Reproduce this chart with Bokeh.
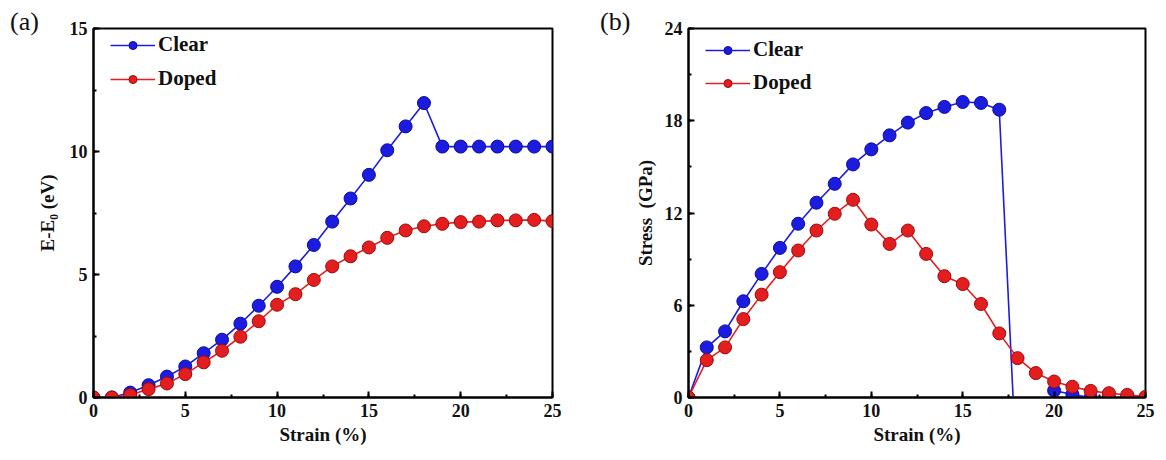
from bokeh.plotting import figure
from bokeh.layouts import row
from bokeh.models import Range1d, Div, SingleIntervalTicker
from bokeh.embed import file_html
from bokeh.resources import INLINE

# ---------------- data ----------------
strain = list(range(0, 26))

energy_clear = [0.0, 0.0, 0.2, 0.5, 0.85, 1.26, 1.8, 2.35, 3.0, 3.73, 4.5, 5.33, 6.2,
                7.15, 8.09, 9.05, 10.05, 11.02, 11.97, 10.2, 10.2, 10.2, 10.2, 10.2, 10.2, 10.2]
energy_doped = [0.0, 0.0, 0.1, 0.34, 0.57, 0.95, 1.43, 1.9, 2.47, 3.1, 3.77, 4.2, 4.78,
                5.33, 5.74, 6.1, 6.49, 6.79, 6.96, 7.06, 7.13, 7.15, 7.2, 7.2, 7.22, 7.17]

stress_clear = [0.0, 3.26, 4.3, 6.26, 8.04, 9.73, 11.3, 12.67, 13.9, 15.16, 16.14, 17.05, 17.88,
                18.5, 18.9, 19.22, 19.16, 18.72, -6.0, -6.0, 0.45, 0.2, 0.0, 0.0, 0.0, 0.0]
stress_doped = [0.0, 2.43, 3.26, 5.1, 6.69, 8.15, 9.56, 10.86, 11.95, 12.86, 11.25, 9.99, 10.86,
                9.34, 7.89, 7.38, 6.08, 4.17, 2.56, 1.59, 1.04, 0.7, 0.43, 0.28, 0.17, 0.04]

series_names = ["Clear", "Doped"]
x_label = "Strain (%)"
y_label_a = "E-E\u2080 (eV)"
y_label_b = "Stress\u00a0 (GPa)"
panel_tags = ["(a)", "(b)"]

BLUE = "#1c1ce0"
BLUE_DARK = "#0c0c9a"
RED = "#e41e1e"
RED_DARK = "#9a0c0c"
FONT = "Liberation Serif"
FIG_H = 452


def make_tag(text, w, pad_left):
    return Div(text=text, width=w, height=60, margin=0,
               styles={"font-family": FONT, "font-size": "26px", "color": "#111111",
                       "padding-left": f"{pad_left}px", "padding-top": "6px",
                       "line-height": "31px", "white-space": "nowrap",
                       "box-sizing": "border-box", "overflow": "visible"})


def make_panel(ylab, yvals_clear, yvals_doped, ymax, yint,
               bl, br, frame_w, leg_loc, leg_spacing, ylab_standoff):
    p = figure(width=bl + frame_w + br, height=FIG_H, output_backend="svg",
               toolbar_location=None, x_range=Range1d(0, 25), y_range=Range1d(0, ymax),
               min_border_left=bl, min_border_right=br, min_border_top=28,
               min_border_bottom=FIG_H - 397, margin=0)
    p.grid.visible = False
    p.outline_line_color = "black"
    p.outline_line_width = 2
    p.outline_line_alpha = 1.0
    p.background_fill_color = "white"
    p.border_fill_alpha = 0

    p.xaxis.ticker = SingleIntervalTicker(interval=5, num_minor_ticks=2)
    p.yaxis.ticker = SingleIntervalTicker(interval=yint, num_minor_ticks=2)
    for ax in (p.xaxis[0], p.yaxis[0]):
        ax.major_tick_in = 6
        ax.major_tick_out = 0
        ax.minor_tick_in = 3
        ax.minor_tick_out = 0
        ax.major_tick_line_width = 2
        ax.minor_tick_line_width = 2
        ax.axis_line_width = 2
        ax.major_label_text_font = FONT
        ax.major_label_text_font_style = "bold"
        ax.major_label_text_font_size = "18px"
        ax.major_label_text_color = "#111111"
        ax.axis_label_text_font = FONT
        ax.axis_label_text_font_style = "bold"
        ax.axis_label_text_font_size = "19px"
        ax.axis_label_text_color = "#111111"
        ax.major_label_standoff = 6
    p.xaxis.axis_label = x_label
    p.xaxis.axis_label_standoff = 4
    p.yaxis.axis_label = ylab
    p.yaxis.axis_label_standoff = ylab_standoff

    for yv, col, dark, name in ((yvals_clear, BLUE, BLUE_DARK, series_names[0]),
                                (yvals_doped, RED, RED_DARK, series_names[1])):
        p.line(strain, yv, line_color=col, line_width=1.6, legend_label=name)
        p.scatter(strain, yv, size=13, fill_color=col, line_color=dark,
                  line_width=1, legend_label=name)

    lg = p.legend[0]
    lg.location = leg_loc
    lg.border_line_color = None
    lg.background_fill_alpha = 0
    lg.glyph_width = 45
    lg.glyph_height = 20
    lg.label_height = 20
    lg.spacing = leg_spacing
    lg.padding = 2
    lg.margin = 0
    lg.label_standoff = 3
    lg.label_text_font = FONT
    lg.label_text_font_style = "bold"
    lg.label_text_font_size = "21px"
    lg.label_text_color = "#111111"
    return p


tag_a = make_tag(panel_tags[0], 30, 10)
pa = make_panel(y_label_a, energy_clear, energy_doped, 15, 5,
                63, 31, 459, (17, 306), 9, 9)
tag_b = make_tag(panel_tags[1], 30, 17)
pb = make_panel(y_label_b, stress_clear, stress_doped, 24, 6,
                75, 13, 457, (17, 302), 8, 6)

layout = row(tag_a, pa, tag_b, pb, spacing=0, margin=0)
open("out.html", "w").write(file_html(layout, INLINE))
